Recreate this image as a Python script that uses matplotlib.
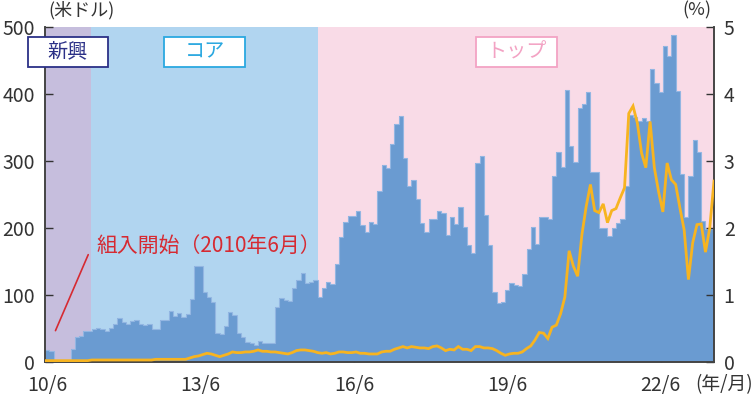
import matplotlib

matplotlib.use("Agg")
import matplotlib.pyplot as plt  # noqa: E402
import numpy as np  # noqa: E402
from matplotlib.patches import Rectangle  # noqa: E402

plt.rcParams["font.family"] = ["Noto Sans CJK JP", "DejaVu Sans"]

# monthly series from 2010/6 (index 0)
amount_usd = [
    18, 17, 0, 0, 0, 0, 20, 38, 39, 47,
    46, 50, 51, 50, 47, 51, 57, 65, 59, 57,
    61, 63, 57, 55, 57, 49, 49, 62, 62, 76,
    69, 73, 67, 71, 94, 144, 144, 105, 97, 89,
    44, 42, 54, 74, 70, 43, 37, 30, 29, 26,
    31, 28, 28, 28, 82, 96, 92, 91, 111, 123,
    133, 118, 120, 122, 97, 111, 119, 116, 146, 187,
    209, 218, 218, 226, 205, 194, 209, 206, 255, 294,
    290, 326, 355, 367, 305, 262, 271, 243, 207, 194,
    213, 213, 225, 223, 190, 217, 206, 232, 201, 174,
    163, 297, 308, 220, 174, 104, 88, 90, 107, 118,
    115, 114, 132, 168, 201, 176, 216, 216, 213, 277,
    313, 291, 406, 322, 298, 379, 385, 403, 283, 283,
    200, 200, 188, 200, 207, 213, 263, 369, 366, 359,
    364, 359, 438, 417, 403, 472, 457, 488, 405, 281,
    217, 277, 332, 313, 210, 199, 199,
]
share_pct = [
    0.02, 0.02, 0.02, 0.02, 0.02, 0.02, 0.02, 0.02, 0.02, 0.02,
    0.02, 0.03, 0.03, 0.03, 0.03, 0.03, 0.03, 0.03, 0.03, 0.03,
    0.03, 0.03, 0.03, 0.03, 0.03, 0.03, 0.04, 0.04, 0.04, 0.04,
    0.04, 0.04, 0.04, 0.04, 0.06, 0.08, 0.09, 0.11, 0.13, 0.12,
    0.10, 0.08, 0.10, 0.12, 0.15, 0.14, 0.14, 0.15, 0.15, 0.16,
    0.18, 0.16, 0.16, 0.15, 0.15, 0.14, 0.13, 0.12, 0.14, 0.17,
    0.18, 0.18, 0.17, 0.16, 0.14, 0.13, 0.14, 0.12, 0.13, 0.15,
    0.15, 0.14, 0.14, 0.15, 0.13, 0.13, 0.12, 0.12, 0.12, 0.15,
    0.16, 0.16, 0.19, 0.21, 0.23, 0.21, 0.23, 0.22, 0.21, 0.21,
    0.20, 0.23, 0.24, 0.21, 0.17, 0.19, 0.18, 0.23, 0.19, 0.19,
    0.17, 0.23, 0.23, 0.21, 0.21, 0.20, 0.17, 0.13, 0.10, 0.12,
    0.13, 0.13, 0.15, 0.20, 0.24, 0.33, 0.44, 0.43, 0.35, 0.52,
    0.55, 0.72, 0.97, 1.66, 1.43, 1.28, 1.90, 2.32, 2.65, 2.26,
    2.23, 2.36, 2.08, 2.26, 2.29, 2.45, 2.60, 3.71, 3.82, 3.57,
    3.12, 2.90, 3.59, 2.90, 2.54, 2.24, 2.97, 2.72, 2.65, 2.30,
    1.97, 1.23, 1.78, 2.05, 2.06, 1.64, 2.00, 2.70,
]
tick_months = [0, 36, 72, 108, 144]
tick_labels = ["10/6", "13/6", "16/6", "19/6", "22/6"]
# index-tier phases: (label, start month, end month)
phases = [("新興", 0, 10.85), ("コア", 10.85, 64.0), ("トップ", 64.0, 157)]

PHASE_BG = ["#c6bedd", "#b1d5f0", "#f9dbe7"]
PHASE_FG = ["#2b3087", "#2aa8e0", "#f3a3c4"]
BAR = "#6a9bd1"
LINE = "#f7b420"
RED = "#d62a32"
INK = "#333333"

fig = plt.figure(figsize=(7.55, 3.95), dpi=100)
ax = fig.add_axes([45 / 755, 1 - 362 / 395, 669 / 755, 335 / 395])

for (_, lo, hi), bg in zip(phases, PHASE_BG):
    ax.axvspan(lo, hi, color=bg, lw=0, zorder=0)

months = np.arange(len(amount_usd))
ax.bar(months, amount_usd, width=1.0, align="edge", color=BAR, lw=0, zorder=2)
ax.stairs(amount_usd, np.arange(len(amount_usd) + 1), color="#93b6e2", lw=0.8, zorder=2)
ax.set_xlim(0, len(amount_usd))
ax.set_ylim(0, 500)
ax.set_yticks(range(0, 501, 100))

ax2 = ax.twinx()
ax2.plot(np.arange(len(share_pct)), share_pct, color=LINE, lw=2.0, zorder=3,
         solid_joinstyle="miter")
ax2.set_ylim(0, 5)
ax2.set_yticks(range(0, 6))
ax2.set_xlim(0, len(amount_usd))

ax.set_xticks(np.array(tick_months) + 0.5)
ax.set_xticklabels(tick_labels)

for a in (ax, ax2):
    a.spines["top"].set_visible(False)
    for s in ("left", "right", "bottom"):
        a.spines[s].set_color("#444444")
        a.spines[s].set_linewidth(1.2)
    a.tick_params(direction="in", length=6, width=1, color=INK, labelcolor=INK,
                  labelsize=14)
ax.tick_params(axis="y", pad=7)
ax.tick_params(axis="x", pad=9)
ax2.tick_params(axis="y", pad=7)

# phase name boxes
box_x = [(28, 108), (164, 245), (476, 557)]
for (name, _, _), fg, (x0, x1) in zip(phases, PHASE_FG, box_x):
    fig.patches.append(Rectangle((x0 / 755, 1 - 67 / 395), (x1 - x0) / 755, 30 / 395,
                                 transform=fig.transFigure, facecolor="white",
                                 edgecolor=fg, lw=1.3, zorder=5))
    fig.text((x0 + x1) / 2 / 755, 1 - 52 / 395, name, color=fg, fontsize=14.5,
             ha="center", va="center", zorder=6)

ax.annotate("", xy=(2.2, 43), xytext=(10.4, 164),
            arrowprops=dict(arrowstyle="-", color=RED, lw=1.2), zorder=4)
ax.text(12.0, 173, "組入開始（2010年6月）", color=RED, fontsize=15,
        ha="left", va="center", zorder=4)

fig.text(82 / 755, 1 - 10 / 395, "(米ドル)", color=INK, fontsize=13, ha="center", va="center")
fig.text(697 / 755, 1 - 10 / 395, "(%)", color=INK, fontsize=13, ha="center", va="center")
fig.text(753 / 755, 1 - 385 / 395, "(年/月)", color=INK, fontsize=13.5, ha="right", va="center")

fig.savefig("out.png", dpi=100)
